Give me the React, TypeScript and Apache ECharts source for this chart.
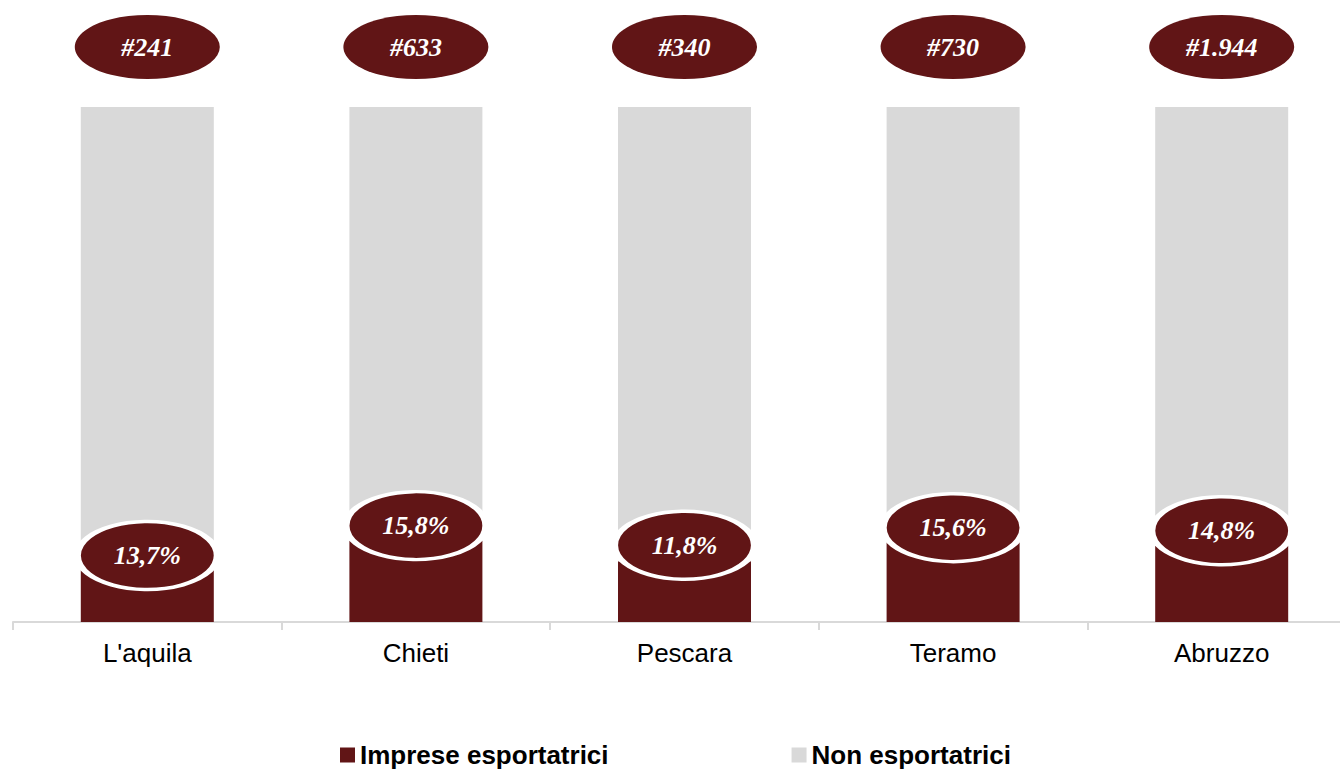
import React, { useEffect, useRef } from "react";
import * as echarts from "echarts";

const categories = ["L'aquila", "Chieti", "Pescara", "Teramo", "Abruzzo"];
const exporters = [13.7, 15.8, 11.8, 15.6, 14.8];
const nonExporters = exporters.map((v) => +(100 - v).toFixed(1));
const counts = ["#241", "#633", "#340", "#730", "#1.944"];
const pctLabels = ["13,7%", "15,8%", "11,8%", "15,6%", "14,8%"];
const labelShift = [4, -15, -16, -14, -15];

const DARK = "#611516";
const GREY = "#D9D9D9";

export default function App() {
  const ref = useRef<HTMLDivElement>(null);
  useEffect(() => {
    const chart = echarts.init(ref.current!, null, { renderer: "svg" });
    const labelFont = {
      color: "#fff",
      fontFamily: "'Liberation Serif', 'DejaVu Serif', serif",
      fontStyle: "italic" as const,
      fontWeight: "bold" as const,
      fontSize: 26,
    };
    chart.setOption({
      animation: false,
      grid: { left: 13, right: 4, top: 107, bottom: 147 },
      legend: {
        data: ["Imprese esportatrici", "Non esportatrici"],
        top: 737,
        left: 335,
        icon: "rect",
        itemWidth: 15,
        itemHeight: 15,
        itemGap: 183,
        textStyle: {
          fontFamily: "'Liberation Sans', Arial, sans-serif",
          fontWeight: "bold",
          fontSize: 26,
          color: "#000",
        },
      },
      xAxis: {
        type: "category",
        data: categories,
        axisLine: { lineStyle: { color: GREY, width: 2 } },
        axisTick: { show: true, length: 8, lineStyle: { color: GREY, width: 2 } },
        axisLabel: {
          fontFamily: "'Liberation Sans', Arial, sans-serif",
          fontSize: 26,
          color: "#000",
          margin: 18,
        },
      },
      yAxis: {
        type: "value",
        min: 0,
        max: 100,
        show: false,
        splitLine: { show: false },
      },
      series: [
        {
          name: "Imprese esportatrici",
          type: "bar",
          stack: "tot",
          barWidth: 133,
          data: exporters,
          itemStyle: { color: DARK },
        },
        {
          name: "Non esportatrici",
          type: "bar",
          stack: "tot",
          barWidth: 133,
          data: nonExporters,
          itemStyle: { color: GREY },
        },
        {
          name: "pct",
          type: "scatter",
          clip: false,
          z: 5,
          symbol: "circle",
          symbolSize: [140, 68],
          data: exporters.map((v, i) => ({
            value: v,
            symbolOffset: [0, labelShift[i]],
          })),
          itemStyle: { color: DARK, borderColor: "#fff", borderWidth: 5, opacity: 1 },
          label: {
            show: true,
            position: "inside",
            formatter: (p: any) => pctLabels[p.dataIndex],
            ...labelFont,
          },
        },
        {
          name: "count",
          type: "scatter",
          clip: false,
          z: 5,
          symbol: "circle",
          symbolSize: [145, 64],
          symbolOffset: [0, -60],
          data: exporters.map(() => 100),
          itemStyle: { color: DARK, opacity: 1 },
          label: {
            show: true,
            position: "inside",
            formatter: (p: any) => counts[p.dataIndex],
            ...labelFont,
          },
        },
      ],
    });
    return () => chart.dispose();
  }, []);
  return (
    <div
      ref={ref}
      style={{ position: "fixed", left: 0, top: 0, width: 1360, height: 769, background: "#fff" }}
    />
  );
}
